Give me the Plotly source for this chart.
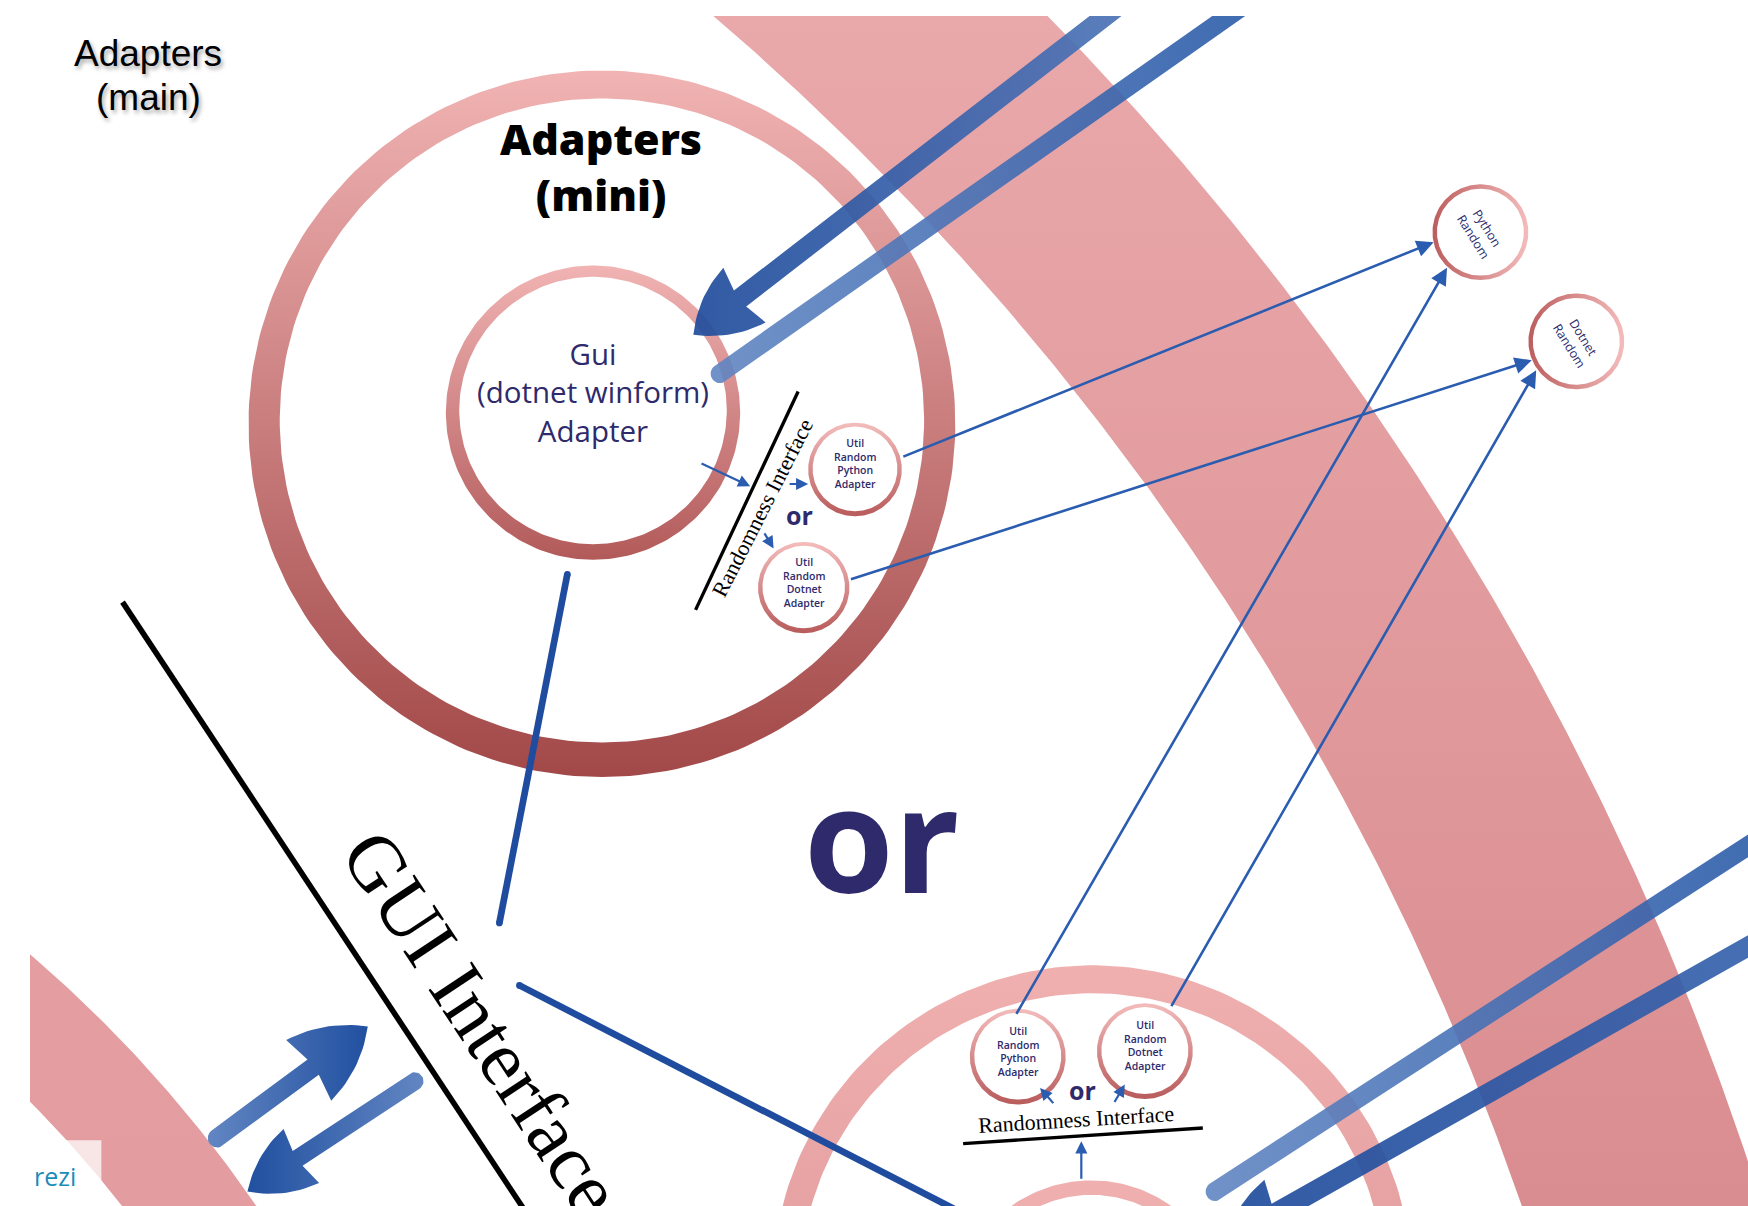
import numpy as np
import plotly.graph_objects as go

# Prezi screenshot rebuilt with plotly. Coordinates are read off the picture
# in screenshot pixels (y grows downwards); the canvas starts at x=27, y=14.
x_lo, x_hi = 27, 1568
y_lo, y_hi = 14, 1082
K = 1748 / 1568  # output px per screenshot px

# big pink bands (parts of huge rings): centre, inner / outer radius, angle span
band_cx = [-970, -733]
band_cy = [1887, 1743]
band_r_in = [2470, 1071]
band_r_out = [2675, 1168]
band_a0 = [-58, -62]
band_a1 = [-8, -20]

# gradient rings: Adapters (mini), Gui adapter, bottom ring, bottom inner ring
ring_cx = [540, 532, 980, 979]
ring_cy = [380, 370, 1153, 1183]
ring_r_out = [317, 132, 287, 124]
ring_r_in = [289, 120, 262, 111]
ring_shift = [-3, -2, 0, 0]

# small "Util Random ..." circles
util_labels = ['Util<br>Random<br>Python<br>Adapter', 'Util<br>Random<br>Dotnet<br>Adapter',
               'Util<br>Random<br>Python<br>Adapter', 'Util<br>Random<br>Dotnet<br>Adapter']
util_x = [767, 721, 913, 1027]
util_y = [421, 527, 948, 943]
util_r = [42, 41, 43, 43]

# far right circles
rand_labels = ['Python<br>Random', 'Dotnet<br>Random']
rand_x = [1328, 1414]
rand_y = [208, 306]
rand_r = [43, 43]

# long thin arrows from the util adapters to the random libs
link_x0 = [809, 762, 911, 1050]
link_y0 = [410, 520, 911, 904]
link_x1 = [1286, 1374, 1298, 1378]
link_y1 = [217, 323, 240, 332]

# short thin arrows around the "Randomness Interface" lines
tick_x0 = [628, 707, 685, 946, 999, 970]
tick_y0 = [415, 434, 477, 991, 990, 1059]
tick_x1 = [673, 725, 694, 933, 1009, 970]
tick_y1 = [436, 434, 492, 976, 973, 1024]

# big prezi arrows: tail, tip, head length (0 = head off canvas), head half width,
# notch, shaft width
arrow_tail_x = [1003, 646, 195, 372, 1090, 1580]
arrow_tail_y = [5, 335, 1021, 970, 1069, 842]
arrow_tip_x = [622, 1115, 330, 222, 1580, 1099]
arrow_tip_y = [300, 5, 921, 1069, 751, 1114]
arrow_back = [58, 0, 66, 58, 0, 58]
arrow_half = [31, 0, 34, 29, 0, 31]
arrow_notch = [53, 0, 61, 54, 0, 53]
arrow_width = [18, 17, 17, 16, 17, 18]
arrow_c_tail = ['#4d74b6', '#6186c2', '#6286c2', '#6286c2', '#6186c2', '#3763ad']
arrow_c_head = ['#1f4c9c', '#2a5ba8', '#2150a0', '#2150a0', '#2a5ba8', '#1f4c9c']
arrow_alpha = [0.92, 0.9, 1, 1, 0.9, 0.92]

# medium blue connector lines
conn_x0 = [509, 466]
conn_y0 = [515, 884]
conn_x1 = [448, 880]
conn_y1 = [828, 1097]

# black divider lines
div_x0 = [110, 716, 864]
div_y0 = [540, 351, 1026]
div_x1 = [478, 624, 1079]
div_y1 = [1097, 547, 1012]
div_w = [5, 3, 3]

NAVY = '#2e2a6b'
BLUE = '#2a5cb0'

fig = go.Figure()


def arc(cx, cy, r, a0, a1, n=240):
    a = np.radians(np.linspace(a0, a1, n))
    return cx + r * np.cos(a), cy + r * np.sin(a)


def add_poly(x, y, colorscale, kind, start, stop, opacity=1):
    fig.add_trace(go.Scatter(x=x, y=y, mode='lines', line=dict(width=0), fill='toself',
                             fillgradient=dict(type=kind, colorscale=colorscale,
                                               start=start, stop=stop),
                             opacity=opacity, hoverinfo='skip'))


def add_disk(cx, cy, r, color='white'):
    x, y = arc(cx, cy, r, 0, 360, 120)
    fig.add_trace(go.Scatter(x=x, y=y, mode='lines', line=dict(width=0), fill='toself',
                             fillcolor=color, hoverinfo='skip'))


def add_ring(cx, cy, r_out, r_in, c0, c1, dy=0, kind='vertical'):
    xo, yo = arc(cx, cy, r_out, 90, 450)
    xi, yi = arc(cx, cy + dy, r_in, 450, 90)
    if kind == 'vertical':
        start, stop = cy - r_out, cy + r_out
    else:
        start, stop = cx - r_out, cx + r_out
    add_poly(np.r_[xo, xi], np.r_[yo, yi], [[0, c0], [1, c1]], kind, start, stop)


def bezier(p0, c, p2, n=16):
    t = np.linspace(0, 1, n)[:, None]
    return (1 - t) ** 2 * p0 + 2 * (1 - t) * t * c + t ** 2 * p2


def add_arrow(i):
    tail = np.array([arrow_tail_x[i], arrow_tail_y[i]], float)
    tip = np.array([arrow_tip_x[i], arrow_tip_y[i]], float)
    d = (tip - tail) / np.linalg.norm(tip - tail)
    n = np.array([-d[1], d[0]])
    back, half, notch = arrow_back[i], arrow_half[i], arrow_notch[i]
    hw = arrow_width[i] / 2
    # round tail cap
    ang0 = np.degrees(np.arctan2(n[1], n[0]))
    cap = np.c_[arc(tail[0], tail[1], hw, ang0, ang0 + 180, 20)]
    if back > 0:
        w1 = tip - back * d + half * n
        w2 = tip - back * d - half * n
        m1 = tip - notch * d + hw * n
        m2 = tip - notch * d - hw * n
        bow = 0.16
        edge1 = bezier(tip, (tip + w1) / 2 + bow * (half * d + back * n), w1)
        edge2 = bezier(w2, (tip + w2) / 2 + bow * (half * d - back * n), tip)
        pts = np.vstack([edge1, m1, tail + hw * n, cap, tail - hw * n, m2, edge2])
    else:
        pts = np.vstack([tip + hw * n, tail + hw * n, cap, tail - hw * n, tip - hw * n])
    if tip[0] > tail[0]:
        cs = [[0, arrow_c_tail[i]], [1, arrow_c_head[i]]]
    else:
        cs = [[0, arrow_c_head[i]], [1, arrow_c_tail[i]]]
    add_poly(pts[:, 0], pts[:, 1], cs, 'horizontal', pts[:, 0].min(), pts[:, 0].max(),
             opacity=arrow_alpha[i])


def add_line(x0, y0, x1, y1, width, color, opacity=1, round_caps=False):
    fig.add_trace(go.Scatter(x=[x0, x1], y=[y0, y1],
                             mode='lines+markers' if round_caps else 'lines',
                             line=dict(color=color, width=width * K),
                             marker=dict(size=width * K, color=color),
                             opacity=opacity, hoverinfo='skip'))


def label(x, y, text, size, color=NAVY, family='Open Sans', weight='normal', angle=0, shadow=None):
    font = dict(family=family, size=size, color=color, weight=weight)
    if shadow:
        font['shadow'] = shadow
    fig.add_annotation(x=x, y=y, xref='x', yref='y', text=text, showarrow=False,
                       font=font, textangle=angle, xanchor='center', yanchor='middle')


# pink bands in the background
band_top = ['#e9a8aa', '#e8a6a8']
band_bot = ['#da8d90', '#e39c9f']
for i in range(len(band_cx)):
    xo, yo = arc(band_cx[i], band_cy[i], band_r_out[i], band_a0[i], band_a1[i])
    xi, yi = arc(band_cx[i], band_cy[i], band_r_in[i], band_a1[i], band_a0[i])
    add_poly(np.r_[xo, xi], np.r_[yo, yi], [[0, band_top[i]], [1, band_bot[i]]],
             'vertical', y_lo, y_hi)

# gradient rings
ring_top = ['#f1b3b3', '#f1b3b3', '#f0b0b0', '#f0b0b0']
ring_bot = ['#a24848', '#b25a5a', '#d88c8c', '#e49e9e']
for i in range(len(ring_cx)):
    add_ring(ring_cx[i], ring_cy[i], ring_r_out[i], ring_r_in[i], ring_top[i], ring_bot[i],
             dy=ring_shift[i])

# small circles
for i in range(len(util_x)):
    add_disk(util_x[i], util_y[i], util_r[i])
    add_ring(util_x[i], util_y[i], util_r[i], util_r[i] - 4, '#f4bcbc', '#b85b5b', dy=-0.5)
for i in range(len(rand_x)):
    add_disk(rand_x[i], rand_y[i], rand_r[i])
    add_ring(rand_x[i], rand_y[i], rand_r[i], rand_r[i] - 4, '#bc5d5d', '#f4bcbc',
             kind='horizontal')

# black divider lines
for i in range(len(div_x0)):
    add_line(div_x0[i], div_y0[i], div_x1[i], div_y1[i], div_w[i], 'black')

# medium blue connectors
for i in range(len(conn_x0)):
    add_line(conn_x0[i], conn_y0[i], conn_x1[i], conn_y1[i], 6, '#1f4c9e', round_caps=True)

# big arrows and bars
for i in range(len(arrow_tail_x)):
    add_arrow(i)

# thin arrows
for i in range(len(link_x0)):
    fig.add_annotation(x=link_x1[i], y=link_y1[i], ax=link_x0[i], ay=link_y0[i],
                       xref='x', yref='y', axref='x', ayref='y', text='', showarrow=True,
                       arrowhead=2, arrowsize=1.3, arrowwidth=2.6, arrowcolor=BLUE, standoff=0)
for i in range(len(tick_x0)):
    fig.add_annotation(x=tick_x1[i], y=tick_y1[i], ax=tick_x0[i], ay=tick_y0[i],
                       xref='x', yref='y', axref='x', ayref='y', text='', showarrow=True,
                       arrowhead=2, arrowsize=1.1, arrowwidth=2.2, arrowcolor=BLUE, standoff=0)

# texts
shadow = '2px 3px 4px rgba(0,0,0,0.35)'
label(133, 48, 'Adapters', 37, 'black', 'Liberation Sans', shadow=shadow)
label(133, 87, '(main)', 37, 'black', 'Liberation Sans', shadow=shadow)
label(539, 149, 'Adapters<br>(mini)', 43, 'black', weight=800)
label(532, 351, 'Gui<br>(dotnet winform)<br>Adapter', 29.5)
for i in range(len(util_x)):
    label(util_x[i], util_y[i] - 5, util_labels[i], 10.5, weight=600)
for i in range(len(rand_x)):
    label(rand_x[i], rand_y[i], rand_labels[i], 12.5, angle=58)
label(717, 462, 'or', 25, weight='bold')
label(971, 978, 'or', 25, weight='bold')
label(791, 750, 'or', 145, weight='bold')
label(684, 455, 'Randomness Interface', 22, 'black', 'Liberation Serif', angle=-63)
label(965, 1004, 'Randomness Interface', 22, 'black', 'Liberation Serif', angle=-3.5)
label(433, 918, 'GUI Interface', 79, 'black', 'Liberation Serif', angle=56.6)

# prezi watermark corner
fig.add_trace(go.Scatter(x=[27, 91, 91, 27], y=[1023, 1023, 1090, 1090], mode='lines',
                         line=dict(width=0), fill='toself', fillcolor='rgba(255,255,255,0.75)',
                         hoverinfo='skip'))
label(49, 1055, 'rezi', 25, '#1a8cb8')

fig.update_layout(width=1748, height=1206, showlegend=False,
                  margin=dict(l=round(x_lo * K), r=0, t=round(y_lo * K), b=0),
                  paper_bgcolor='white', plot_bgcolor='white',
                  xaxis=dict(range=[x_lo, x_hi], visible=False, fixedrange=True),
                  yaxis=dict(range=[y_hi, y_lo], visible=False, fixedrange=True))

# drop the default page margin so the figure fills the window exactly
fig.write_html("out.html", config={'displayModeBar': False},
               post_script="document.body.style.margin='0';document.body.style.overflow='hidden';")
